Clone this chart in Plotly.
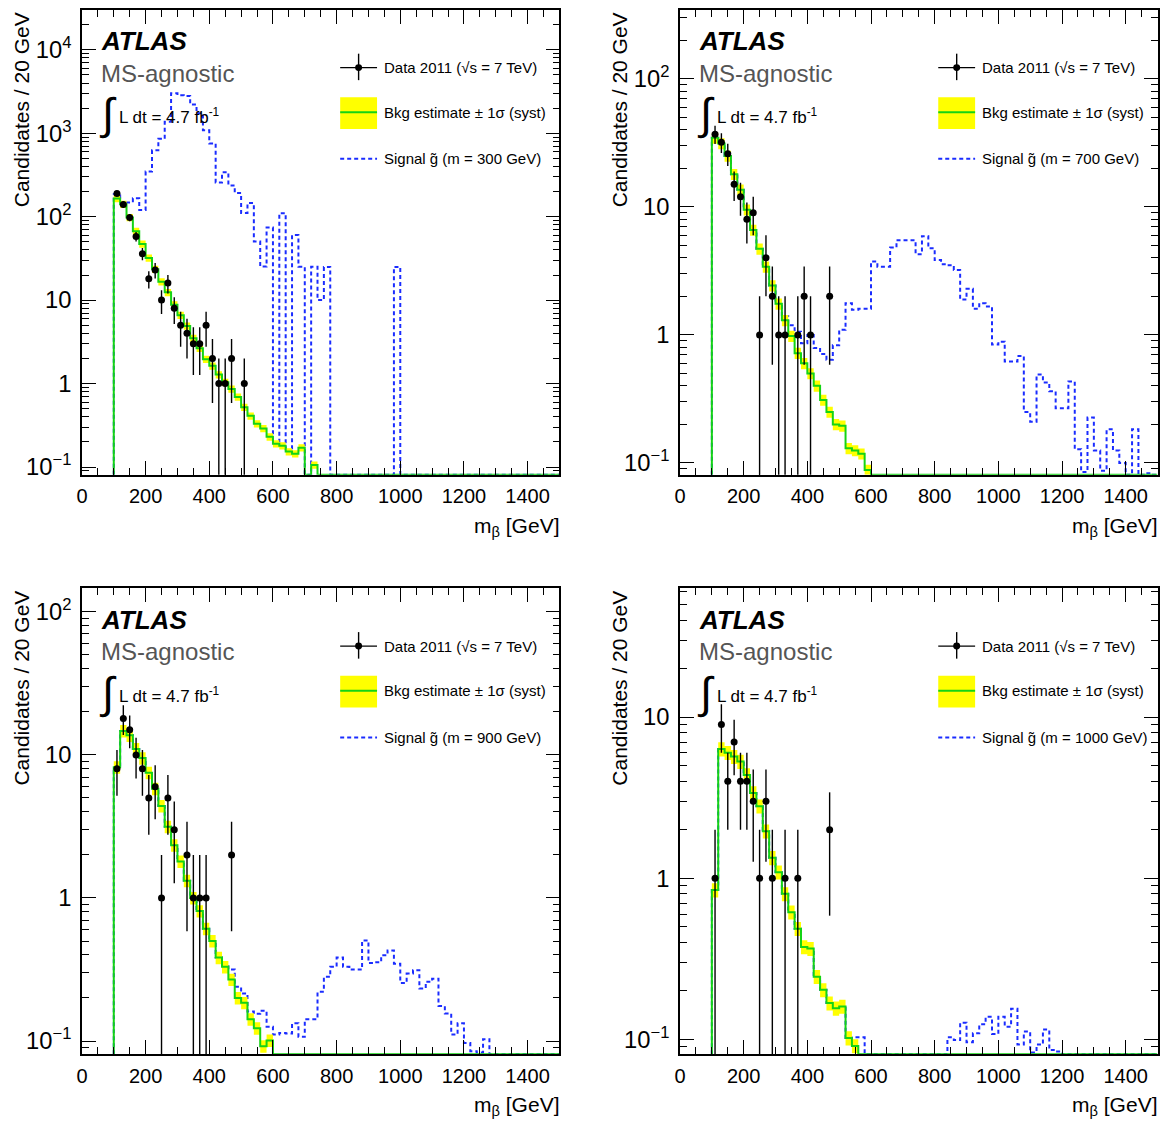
import numpy as np
import plotly.graph_objects as go
from plotly.subplots import make_subplots

BIN_WIDTH = 20
FIRST_EDGE = 100
LAST_EDGE = 1500
Y_FLOOR = 0.081
BAND_FRAC = 0.10

# --- gluino m = 300 GeV ---
BKG_300 = [165, 141, 98, 67, 47, 32, 23.5, 16.6, 12.4, 8.8, 6.6, 4.9, 3.5, 2.65, 1.96,
           1.63, 1.28, 1.04, 0.86, 0.69, 0.52, 0.41, 0.33, 0.29, 0.23, 0.19, 0.18, 0.153,
           0.144, 0.17, 0, 0.106]
SIG_300 = [21, 7, 50, 99, 73, 315, 600, 840, 1360, 3010, 2850, 2795, 2205, 1737, 1081,
           754, 255, 339, 236, 192, 110, 145, 50, 25, 74, 0, 110, 0, 60, 25, 0, 25, 10, 25,
           0, 0, 0, 0, 0, 0, 0, 0, 0, 0, 25]
DATA_X_300 = [110, 130, 150, 170, 190, 210, 230, 250, 270, 290, 310, 330, 350, 370, 390,
              410, 430, 450, 470, 510]
DATA_N_300 = [190, 140, 98, 58, 36, 18, 23, 10, 16, 8, 5, 4, 3, 3, 5, 2, 1, 1, 2, 1]

# --- gluino m = 700 GeV ---
BKG_700 = [34.6, 31.3, 25, 18, 13.6, 9.5, 6.6, 4.7, 3.4, 2.43, 1.75, 1.3, 0.98, 0.72, 0.6,
           0.5, 0.4, 0.31, 0.25, 0.2, 0.195, 0.13, 0.125, 0.118, 0.088]
SIG_700 = [0, 0, 0, 0, 0, 0, 0, 0, 0, 0, 0, 0.1, 0.21, 0.34, 0.26, 0.5, 0.39, 0.4, 0.39,
           0.63, 0.9, 1.64, 1.45, 1.48, 1.51, 3.75, 3.41, 3.41, 4.81, 5.48, 5.48, 5.48, 4.27,
           5.9, 4.75, 3.84, 3.57, 3.5, 3.21, 1.89, 2.29, 1.6, 1.77, 1.67, 0.84, 0.885, 0.62,
           0.62, 0.685, 0.25, 0.21, 0.49, 0.425, 0.363, 0.267, 0.267, 0.433, 0.128, 0.085,
           0.226, 0.125, 0.087, 0.183, 0.125, 0.10, 0, 0.183, 0, 0.083]
DATA_X_700 = [110, 130, 150, 170, 190, 210, 230, 250, 270, 290, 310, 330, 370, 390, 410, 470]
DATA_N_700 = [37, 32, 26, 15, 12, 8, 9, 1, 4, 2, 1, 1, 1, 2, 1, 2]

# --- gluino m = 900 GeV ---
BKG_900 = [8.2, 14.7, 13.7, 11, 9.5, 7.5, 5.8, 4.4, 3.15, 2.34, 1.8, 1.32, 1.0, 0.81, 0.61,
           0.5, 0.383, 0.33, 0.269, 0.2, 0.185, 0.142, 0.123, 0.092, 0.101]
SIG_900 = [0, 0, 0, 0, 0, 0, 0, 0, 0, 0, 0, 0, 0, 0, 0, 0, 0, 0.02, 0.047, 0.04, 0.03, 0.019,
           0.032, 0.071, 0.025, 0.111, 0.114, 0.113, 0.133, 0.107, 0.142, 0.142, 0.221, 0.281,
           0.33, 0.383, 0.33, 0.316, 0.316, 0.505, 0.351, 0.355, 0.397, 0.43, 0.347, 0.255,
           0.296, 0.312, 0.233, 0.26, 0.273, 0.176, 0.156, 0.111, 0.133, 0.097, 0.085, 0.083,
           0.103]
DATA_X_900 = [110, 130, 150, 170, 190, 210, 230, 250, 270, 290, 330, 350, 370, 390, 470]
DATA_N_900 = [8, 18, 15, 10, 8, 5, 6, 1, 5, 3, 2, 1, 1, 1, 2]

# --- gluino m = 1000 GeV ---
BKG_1000 = [0.845, 6.34, 6.02, 5.69, 5.3, 4.38, 3.38, 2.8, 1.96, 1.34, 1.09, 0.8, 0.616,
            0.486, 0.375, 0.366, 0.245, 0.203, 0.168, 0.156, 0.16, 0.102, 0.091]
SIG_1000 = [0, 0, 0, 0, 0, 0, 0, 0, 0, 0, 0, 0, 0, 0, 0, 0, 0, 0, 0, 0, 0, 0, 0.012, 0.103,
            0, 0, 0, 0, 0, 0, 0, 0, 0, 0, 0, 0, 0, 0.103, 0.099, 0.127, 0.096, 0.109, 0.124,
            0.138, 0.108, 0.138, 0.12, 0.155, 0.093, 0.112, 0.083, 0.093, 0.115, 0.086, 0.084]
DATA_X_1000 = [110, 130, 150, 170, 190, 210, 230, 250, 270, 290, 330, 370, 470]
DATA_N_1000 = [1, 9, 4, 7, 4, 4, 3, 1, 3, 1, 1, 1, 2]

X_TICKS = [0, 200, 400, 600, 800, 1000, 1200, 1400]

PANELS = [
    dict(mass=300, bkg=BKG_300, sig=SIG_300, dx=DATA_X_300, dn=DATA_N_300, ymax=3.0e4),
    dict(mass=700, bkg=BKG_700, sig=SIG_700, dx=DATA_X_700, dn=DATA_N_700, ymax=345),
    dict(mass=900, bkg=BKG_900, sig=SIG_900, dx=DATA_X_900, dn=DATA_N_900, ymax=146),
    dict(mass=1000, bkg=BKG_1000, sig=SIG_1000, dx=DATA_X_1000, dn=DATA_N_1000, ymax=63),
]

GREEN = "#14d414"
BLUE = "#1a2cff"
YELLOW = "#ffff00"
FONT = "Liberation Sans"

# page body margin: the figure is drawn a few px in from the window corner
PAD_X, PAD_Y = 11, 8
FIG_W, FIG_H = 1169 - 16, 1129 - 16

N_BINS = (LAST_EDGE - FIRST_EDGE) // BIN_WIDTH
EDGES = np.arange(FIRST_EDGE, LAST_EDGE + BIN_WIDTH, BIN_WIDTH)


def padded(values):
    arr = np.zeros(N_BINS)
    arr[:len(values)] = values
    return arr


def step(values, from_floor=True):
    # ROOT-like histogram outline; empty bins sit on the axis floor
    v = np.clip(values, Y_FLOOR, None)
    if from_floor:
        x = np.concatenate([[FIRST_EDGE], EDGES])
        y = np.concatenate([[Y_FLOOR], v, [v[-1]]])
    else:
        x = EDGES
        y = np.concatenate([v, [v[-1]]])
    return x, y


def xdom(px0, px1):
    return [(px0 - PAD_X) / FIG_W, min((px1 - PAD_X) / FIG_W, 1.0)]


def ydom(py_bottom, py_top):
    return [1 - (py_bottom - PAD_Y) / FIG_H, min(1 - (py_top - PAD_Y) / FIG_H, 1.0)]


fig = make_subplots(rows=2, cols=2)

X_DOMAINS = [xdom(79.3, 559.3), xdom(680.5, 1160.5)]
Y_DOMAINS = [ydom(476, 8), ydom(1059.7, 590.5)]

annotations = []
shapes = []

for i, p in enumerate(PANELS):
    row, col = i // 2 + 1, i % 2 + 1
    bkg = padded(p["bkg"])
    sig = padded(p["sig"])

    # signal stacked on the background
    sx, sy = step(bkg + sig)
    fig.add_trace(go.Scatter(x=sx, y=sy, mode="lines", line_shape="hv",
                             line=dict(color=BLUE, width=2, dash="4px,3px"),
                             hoverinfo="skip"), row=row, col=col)

    # systematic band
    lx, ly = step(bkg * (1 - BAND_FRAC), from_floor=False)
    ux, uy = step(bkg * (1 + BAND_FRAC), from_floor=False)
    fig.add_trace(go.Scatter(x=lx, y=ly, mode="lines", line_shape="hv",
                             line=dict(width=0, color=YELLOW), hoverinfo="skip"),
                  row=row, col=col)
    fig.add_trace(go.Scatter(x=ux, y=uy, mode="lines", line_shape="hv", fill="tonexty",
                             fillcolor=YELLOW, line=dict(width=0, color=YELLOW),
                             hoverinfo="skip"), row=row, col=col)

    bx, by = step(bkg)
    fig.add_trace(go.Scatter(x=bx, y=by, mode="lines", line_shape="hv",
                             line=dict(color=GREEN, width=2), hoverinfo="skip"),
                  row=row, col=col)

    dn = np.array(p["dn"], dtype=float)
    fig.add_trace(go.Scatter(x=p["dx"], y=dn, mode="markers",
                             marker=dict(color="black", size=7),
                             error_y=dict(type="data", array=np.sqrt(dn), color="black",
                                          thickness=1.4, width=0)),
                  row=row, col=col)

    xa = "x" if i == 0 else f"x{i + 1}"
    ya = "y" if i == 0 else f"y{i + 1}"
    xr, yr = f"{xa} domain", f"{ya} domain"

    fig.update_xaxes(domain=X_DOMAINS[col - 1], row=row, col=col)
    fig.update_yaxes(domain=Y_DOMAINS[row - 1], row=row, col=col,
                     range=[np.log10(Y_FLOOR), np.log10(p["ymax"])])

    def text(x, y, s, size, xanchor="left", yanchor="middle", color="black", angle=0,
             family=FONT):
        annotations.append(dict(xref=xr, yref=yr, x=x, y=y, text=s, showarrow=False,
                                xanchor=xanchor, yanchor=yanchor, textangle=angle,
                                font=dict(family=family, size=size, color=color)))

    text(0.036, 0.933, "<b><i>ATLAS</i></b>", 26)
    text(0.036, 0.864, "MS-agnostic", 24, color="#555555")
    text(0.054, 0.776, "∫", 44, xanchor="center")
    text(0.074, 0.772, "L dt = 4.7 fb<sup>-1</sup>", 17)

    # legend
    text(0.628, 0.876, "Data 2011 (√s = 7 TeV)", 15)
    text(0.628, 0.780, "Bkg estimate ± 1σ (syst)", 15)
    text(0.628, 0.680, f"Signal g̃ (m = {p['mass']} GeV)", 15)
    lx0, lx1, lxc = 0.5408, 0.618, 0.5794
    shapes += [
        dict(type="line", xref=xr, yref=yr, x0=lx0, x1=lx1, y0=0.876, y1=0.876,
             line=dict(color="black", width=1.4)),
        dict(type="line", xref=xr, yref=yr, x0=lxc, x1=lxc, y0=0.849, y1=0.906,
             line=dict(color="black", width=1.4)),
        dict(type="circle", xref=xr, yref=yr, x0=lxc - 0.0073, x1=lxc + 0.0073,
             y0=0.876 - 0.0075, y1=0.876 + 0.0075, fillcolor="black",
             line=dict(color="black", width=0)),
        dict(type="rect", xref=xr, yref=yr, x0=lx0, x1=lx1, y0=0.7441, y1=0.8124,
             fillcolor=YELLOW, line=dict(width=0)),
        dict(type="line", xref=xr, yref=yr, x0=lx0, x1=lx1, y0=0.780, y1=0.780,
             line=dict(color=GREEN, width=2)),
        dict(type="line", xref=xr, yref=yr, x0=lx0, x1=lx1, y0=0.680, y1=0.680,
             line=dict(color=BLUE, width=2, dash="4px,3px")),
    ]

    # axis titles, ROOT style (right / top aligned)
    text(1.003, -0.112, "m<sub>β</sub> [GeV]", 21, xanchor="right")
    text(-0.126, 1.0, "Candidates / 20 GeV", 21, xanchor="center", yanchor="top",
         angle=-90)

fig.update_xaxes(range=[0, LAST_EDGE], tickvals=X_TICKS, ticks="inside", ticklen=14,
                 tickwidth=1.2, tickcolor="black", showline=True, linecolor="black",
                 linewidth=1.5, mirror="ticks", showgrid=False, zeroline=False,
                 ticklabelstandoff=3,
                 tickfont=dict(family=FONT, size=20, color="black"),
                 minor=dict(dtick=50, tick0=0, ticks="inside", ticklen=7,
                            tickcolor="black", tickwidth=1.2, showgrid=False))
fig.update_yaxes(type="log", dtick=1, exponentformat="power", ticks="inside", ticklen=14,
                 tickwidth=1.2, tickcolor="black", showline=True, linecolor="black",
                 linewidth=1.5, mirror="ticks", showgrid=False, zeroline=False,
                 ticklabelstandoff=5,
                 tickfont=dict(family=FONT, size=19, color="black"),
                 minor=dict(dtick="D1", ticks="inside", ticklen=7, tickcolor="black",
                            tickwidth=1.2, showgrid=False))

fig.update_layout(width=FIG_W, height=FIG_H, margin=dict(l=0, r=0, t=0, b=0),
                  paper_bgcolor="white", plot_bgcolor="white", showlegend=False,
                  annotations=annotations, shapes=shapes,
                  font=dict(family=FONT, color="black"))

fig.write_html("out.html")
